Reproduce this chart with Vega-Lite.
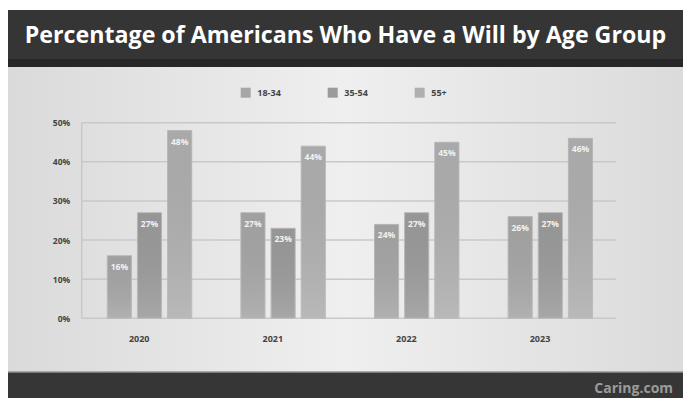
{
  "$schema": "https://vega.github.io/schema/vega-lite/v6.json",
  "width": 675,
  "height": 388,
  "autosize": {"type": "none"},
  "padding": {"left": 8, "top": 10, "right": 0, "bottom": 0},
  "background": "#ffffff",
  "config": {
    "view": {"stroke": null},
    "font": "Open Sans",
    "legend": {"padding": 0}
  },
  "datasets": {
    "bars": [
      {"year": "2020", "group": "18-34", "value": 0.16},
      {"year": "2020", "group": "35-54", "value": 0.27},
      {"year": "2020", "group": "55+", "value": 0.48},
      {"year": "2021", "group": "18-34", "value": 0.27},
      {"year": "2021", "group": "35-54", "value": 0.23},
      {"year": "2021", "group": "55+", "value": 0.44},
      {"year": "2022", "group": "18-34", "value": 0.24},
      {"year": "2022", "group": "35-54", "value": 0.27},
      {"year": "2022", "group": "55+", "value": 0.45},
      {"year": "2023", "group": "18-34", "value": 0.26},
      {"year": "2023", "group": "35-54", "value": 0.27},
      {"year": "2023", "group": "55+", "value": 0.46}
    ],
    "grid": [{"v": 0}, {"v": 0.1}, {"v": 0.2}, {"v": 0.3}, {"v": 0.4}, {"v": 0.5}],
    "header": [{"title": "Percentage of Americans Who Have a Will by Age Group"}],
    "footer": [{"logo": "Caring.com"}]
  },
  "layer": [
    {
      "data": {"values": [{}]},
      "mark": {"type": "rect", "fill": {"gradient": "linear", "x1": 0, "y1": 0, "x2": 1, "y2": 0, "stops": [{"offset": 0, "color": "#dadada"}, {"offset": 0.5, "color": "#efefef"}, {"offset": 1, "color": "#dbdbdb"}]}},
      "encoding": {"y": {"datum": 0.7881, "type": "quantitative", "title": null}, "y2": {"datum": -0.2037}}
    },
    {
      "data": {"values": [{}]},
      "mark": {"type": "rect", "fill": "#353535"},
      "encoding": {"y": {"datum": 0.7881, "type": "quantitative", "title": null}, "y2": {"datum": 0.6424}}
    },
    {
      "data": {"values": [{}]},
      "mark": {"type": "rect", "fill": "#272727"},
      "encoding": {"y": {"datum": 0.6628, "type": "quantitative", "title": null}, "y2": {"datum": 0.6424}}
    },
    {
      "data": {"values": [{}]},
      "mark": {"type": "rect", "fill": "#363636"},
      "encoding": {"y": {"datum": -0.1372, "type": "quantitative", "title": null}, "y2": {"datum": -0.2037}}
    },
    {
      "data": {"values": [{}]},
      "mark": {"type": "rule", "stroke": "#959595", "strokeWidth": 1.5},
      "encoding": {"y": {"datum": -0.1372, "type": "quantitative", "title": null}}
    },
    {
      "data": {"name": "grid"},
      "mark": {"type": "rule", "stroke": "#c8c8c8", "strokeWidth": 1.5},
      "encoding": {
        "y": {"field": "v", "type": "quantitative", "title": null},
        "x": {"datum": "2020", "type": "nominal", "bandPosition": -0.303, "title": null},
        "x2": {"datum": "2023", "bandPosition": 1.278}
      }
    },
    {
      "data": {"values": [{}]},
      "mark": {"type": "rule", "stroke": "#c8c8c8", "strokeWidth": 1.5},
      "encoding": {
        "x": {"datum": "2020", "type": "nominal", "bandPosition": -0.303, "title": null},
        "y": {"datum": 0, "type": "quantitative", "title": null},
        "y2": {"datum": 0.5}
      }
    },
    {
      "data": {"name": "bars"},
      "mark": {"type": "bar", "stroke": "#b9b9b9", "strokeWidth": 1},
      "encoding": {
        "x": {
          "field": "year", "type": "nominal", "title": null,
          "scale": {"paddingInner": 0.368, "paddingOuter": 0.7102, "align": 0.5232},
          "axis": {"zindex": 2, "offset": -79.7, "labelPadding": 20, "domain": false, "ticks": false, "tickSize": 0, "grid": false, "labelAngle": 0, "labelFontSize": 9, "labelFontWeight": "bold", "labelColor": "#444444"}
        },
        "xOffset": {"field": "group", "type": "nominal", "scale": {"paddingInner": 0.2, "paddingOuter": 0}},
        "y": {
          "field": "value", "type": "quantitative", "title": null,
          "scale": {"domain": [-0.2037, 0.7881], "nice": false, "zero": false},
          "axis": {"zindex": 2, "values": [0, 0.1, 0.2, 0.3, 0.4, 0.5], "format": ".0%", "offset": -73.7, "labelPadding": 12, "domain": false, "ticks": false, "tickSize": 0, "grid": false, "labelFontSize": 8.5, "labelFontWeight": "bold", "labelColor": "#444444"}
        },
        "color": {
          "field": "group", "type": "nominal",
          "scale": {"domain": ["18-34", "35-54", "55+"], "range": ["#a6a6a6", "#9b9b9b", "#afafaf"]},
          "legend": {"orient": "none", "legendX": 232.7, "legendY": 77.7, "direction": "horizontal", "title": null, "symbolType": "square", "symbolSize": 100, "symbolStrokeWidth": 0, "labelFontSize": 9, "labelFontWeight": "bold", "labelColor": "#444444", "columnPadding": 46, "labelOffset": 6.6}
        }
      }
    },
    {
      "data": {"name": "bars"},
      "mark": {"type": "bar", "stroke": null, "fill": {"gradient": "linear", "x1": 0, "y1": 0, "x2": 0, "y2": 1, "stops": [{"offset": 0, "color": "rgba(0,0,0,0.03)"}, {"offset": 1, "color": "rgba(255,255,255,0.12)"}]}},
      "encoding": {
        "x": {"field": "year", "type": "nominal"},
        "xOffset": {"field": "group", "type": "nominal"},
        "y": {"field": "value", "type": "quantitative"}
      }
    },
    {
      "data": {"name": "bars"},
      "mark": {"type": "text", "dy": 11, "baseline": "middle", "align": "center", "fill": "#f2f2f2", "fontSize": 8.5, "fontWeight": "bold"},
      "encoding": {
        "x": {"field": "year", "type": "nominal"},
        "xOffset": {"field": "group", "type": "nominal"},
        "y": {"field": "value", "type": "quantitative"},
        "text": {"field": "value", "format": ".0%"}
      }
    },
    {
      "data": {"name": "header"},
      "mark": {"type": "text", "align": "center", "baseline": "alphabetic", "fill": "#ffffff", "fontSize": 23.2, "fontWeight": "bold"},
      "encoding": {
        "y": {"datum": 0.703, "type": "quantitative", "title": null},
        "text": {"field": "title"}
      }
    },
    {
      "data": {"name": "footer"},
      "mark": {"type": "text", "align": "right", "baseline": "alphabetic", "fill": "#9b9b9b", "fontSize": 14, "fontWeight": "bold"},
      "encoding": {
        "x": {"datum": "2023", "type": "nominal", "bandPosition": 1.954, "title": null},
        "y": {"datum": -0.1917, "type": "quantitative", "title": null},
        "text": {"field": "logo"}
      }
    }
  ]
}
